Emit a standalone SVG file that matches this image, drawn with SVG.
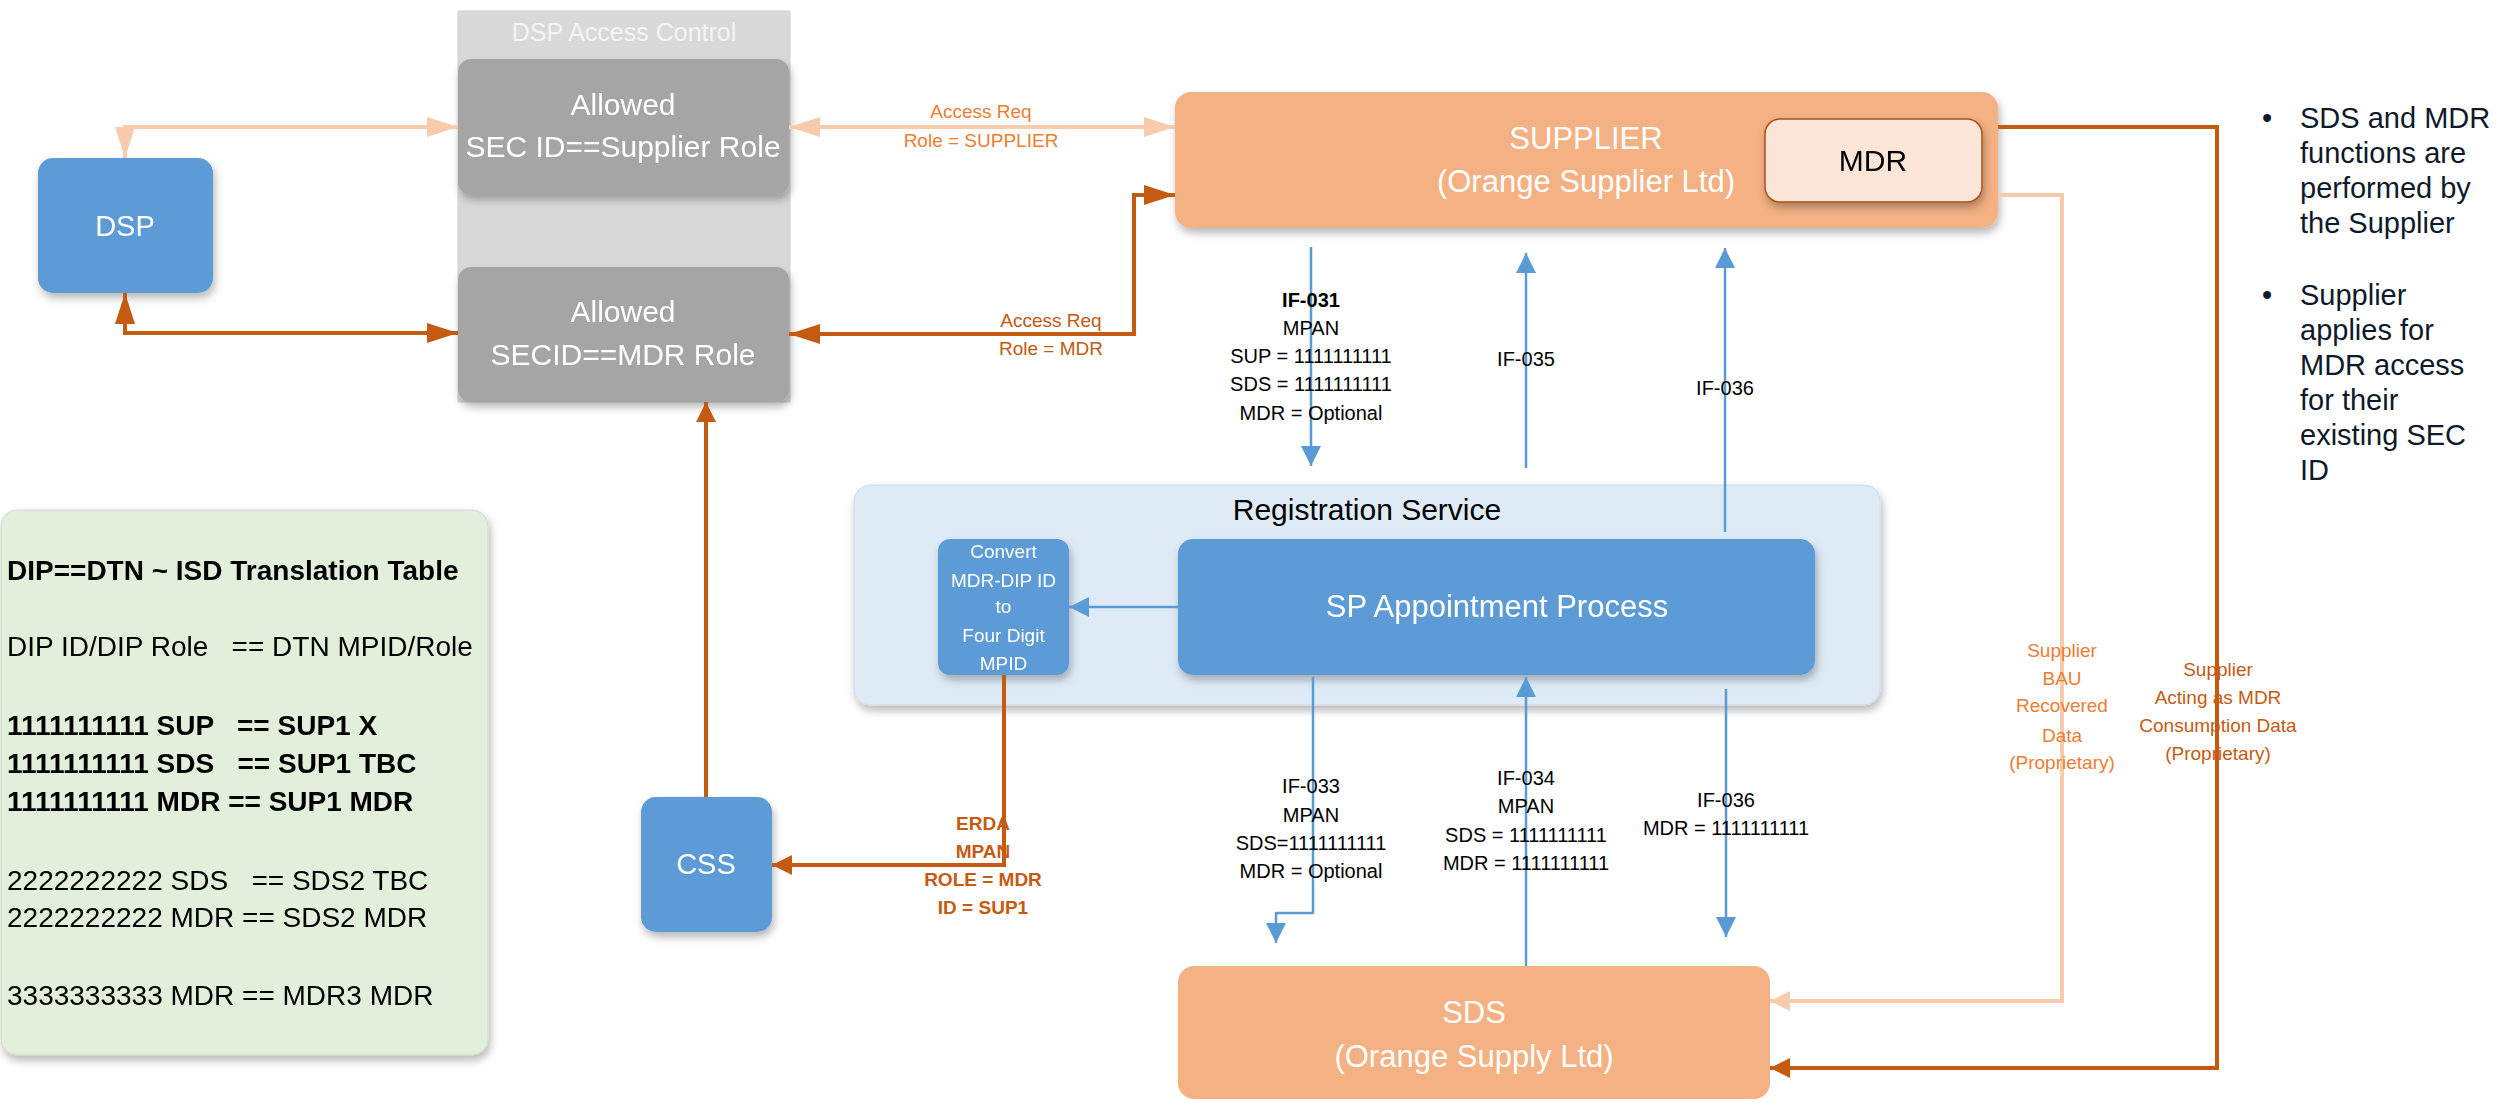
<svg xmlns="http://www.w3.org/2000/svg" width="2496" height="1103" viewBox="0 0 2496 1103">
<style>
text{font-family:"Liberation Sans",Arial,sans-serif}
.w{fill:#ffffff}
.c{text-anchor:middle}
.lbl{font-size:20px;fill:#000;text-anchor:middle}
.olbl{font-size:19px;fill:#ed7d31;text-anchor:middle}
.dlbl{font-size:19px;fill:#c55a11;text-anchor:middle}
.tbl{font-size:28px;fill:#000;white-space:pre}
.bul{font-size:29px;fill:#0e1a2b}
.blue{fill:#5b9bd5}
.gray{fill:#a5a5a5}
.peach{fill:#f4b183}
.lt{fill:none;stroke:#f8cbad;stroke-width:4}
.dk{fill:none;stroke:#c55a11;stroke-width:4}
.bl{fill:none;stroke:#5b9bd5;stroke-width:2.5}
</style>
<defs>
<filter id="sh" x="-10%" y="-10%" width="130%" height="140%">
<feDropShadow dx="2" dy="5" stdDeviation="4" flood-color="#000" flood-opacity="0.28"/>
</filter>
<marker id="ltL" markerUnits="userSpaceOnUse" markerWidth="31" markerHeight="20" refX="31" refY="10" orient="auto-start-reverse"><path d="M0,0 L31,10 L0,20 z" fill="#f8cbad"/></marker>
<marker id="dkL" markerUnits="userSpaceOnUse" markerWidth="31" markerHeight="20" refX="31" refY="10" orient="auto-start-reverse"><path d="M0,0 L31,10 L0,20 z" fill="#c55a11"/></marker>
<marker id="ltS" markerUnits="userSpaceOnUse" markerWidth="20" markerHeight="20" refX="20" refY="10" orient="auto-start-reverse"><path d="M0,0 L20,10 L0,20 z" fill="#f8cbad"/></marker>
<marker id="dkS" markerUnits="userSpaceOnUse" markerWidth="20" markerHeight="20" refX="20" refY="10" orient="auto-start-reverse"><path d="M0,0 L20,10 L0,20 z" fill="#c55a11"/></marker>
<marker id="blS" markerUnits="userSpaceOnUse" markerWidth="20" markerHeight="20" refX="20" refY="10" orient="auto-start-reverse"><path d="M0,0 L20,10 L0,20 z" fill="#5b9bd5"/></marker>
</defs>
<rect width="2496" height="1103" fill="#ffffff"/>

<g id="dsp-access-control">
<rect x="458" y="11" width="332" height="391" fill="#d9d9d9" stroke="#cfcfcf" stroke-width="1"/>
<text x="624" y="41" class="c" font-size="25" fill="#f4f4f4">DSP Access Control</text>
</g>
<g id="allowed-supplier" filter="url(#sh)">
<rect x="458" y="59" width="331" height="136" rx="13" class="gray"/>
<text x="623" y="115" class="c w" font-size="30">Allowed</text>
<text x="623" y="157" class="c w" font-size="30">SEC ID==Supplier Role</text>
</g>
<g id="allowed-mdr" filter="url(#sh)">
<rect x="458" y="267" width="331" height="135" rx="13" class="gray"/>
<text x="623" y="322" class="c w" font-size="30">Allowed</text>
<text x="623" y="365" class="c w" font-size="30">SECID==MDR Role</text>
</g>
<g id="dsp" filter="url(#sh)">
<rect x="38" y="158" width="175" height="135" rx="15" class="blue"/>
<text x="125" y="236" class="c w" font-size="29">DSP</text>
</g>
<g id="css" filter="url(#sh)">
<rect x="641" y="797" width="131" height="135" rx="15" class="blue"/>
<text x="706" y="874" class="c w" font-size="29">CSS</text>
</g>
<g id="translation-table" filter="url(#sh)">
<rect x="1" y="510" width="487" height="545" rx="16" fill="#e2efda" stroke="#d0d8cc" stroke-width="1"/>
<text x="7" y="580" class="tbl" font-weight="bold">DIP==DTN ~ ISD Translation Table</text>
<text x="7" y="656" class="tbl">DIP ID/DIP Role   == DTN MPID/Role</text>
<text x="7" y="735" class="tbl" font-weight="bold">1111111111 SUP   == SUP1 X</text>
<text x="7" y="773" class="tbl" font-weight="bold">1111111111 SDS   == SUP1 TBC</text>
<text x="7" y="811" class="tbl" font-weight="bold">1111111111 MDR == SUP1 MDR</text>
<text x="7" y="890" class="tbl">2222222222 SDS   == SDS2 TBC</text>
<text x="7" y="927" class="tbl">2222222222 MDR == SDS2 MDR</text>
<text x="7" y="1005" class="tbl">3333333333 MDR == MDR3 MDR</text>
</g>
<g id="supplier">
<rect x="1175" y="92" width="823" height="136" rx="16" class="peach" filter="url(#sh)"/>
<text x="1586" y="149" class="c w" font-size="31">SUPPLIER</text>
<text x="1586" y="192" class="c w" font-size="31">(Orange Supplier Ltd)</text>
</g>
<g id="mdr" filter="url(#sh)">
<rect x="1765" y="119" width="217" height="83" rx="15" fill="#fbe5d6" stroke="#a9521a" stroke-width="1.5"/>
<text x="1873" y="171" class="c" font-size="30" fill="#000">MDR</text>
</g>
<g id="registration-service">
<rect x="854" y="485" width="1026" height="220" rx="16" fill="#deebf7" stroke="#d2dbe4" stroke-width="1" filter="url(#sh)"/>
<text x="1367" y="520" class="c" font-size="30" fill="#000">Registration Service</text>
</g>
<g id="convert" filter="url(#sh)">
<rect x="938" y="539" width="131" height="136" rx="12" class="blue"/>
<text x="1003.5" y="558" class="c w" font-size="19">Convert</text>
<text x="1003.5" y="587" class="c w" font-size="19">MDR-DIP ID</text>
<text x="1003.5" y="613" class="c w" font-size="19">to</text>
<text x="1003.5" y="642" class="c w" font-size="19">Four Digit</text>
<text x="1003.5" y="670" class="c w" font-size="19">MPID</text>
</g>
<g id="sp-appointment" filter="url(#sh)">
<rect x="1178" y="539" width="637" height="136" rx="15" class="blue"/>
<text x="1497" y="617" class="c w" font-size="31">SP Appointment Process</text>
</g>
<g id="sds">
<rect x="1178" y="966" width="592" height="133" rx="16" class="peach"/>
<text x="1474" y="1023" class="c w" font-size="31">SDS</text>
<text x="1474" y="1067" class="c w" font-size="31">(Orange Supply Ltd)</text>
</g>

<g id="connectors">
<path class="lt" d="M125,158 L125,127 L458,127" marker-start="url(#ltL)" marker-end="url(#ltL)"/>
<path class="dk" d="M125,293 L125,333 L458,333" marker-start="url(#dkL)" marker-end="url(#dkL)"/>
<path class="lt" d="M789,127 L1175,127" marker-start="url(#ltL)" marker-end="url(#ltL)"/>
<path class="dk" d="M789,334 L1134,334 L1134,195 L1175,195" marker-start="url(#dkL)" marker-end="url(#dkL)"/>
<path class="dk" stroke-width="3" d="M706,797 L706,402" marker-end="url(#dkS)"/>
<path class="dk" stroke-width="2.5" d="M1004,675 L1004,865 L772,865" marker-end="url(#dkS)"/>
<path class="bl" stroke-width="4" d="M1178,607 L1069,607" marker-end="url(#blS)"/>
<path class="bl" d="M1311,247 L1311,466" marker-end="url(#blS)"/>
<path class="bl" d="M1526,468 L1526,253" marker-end="url(#blS)"/>
<path class="bl" d="M1725,532 L1725,248" marker-end="url(#blS)"/>
<path class="bl" d="M1313,677 L1313,913 L1276,913 L1276,943" marker-end="url(#blS)"/>
<path class="bl" d="M1526,966 L1526,677" marker-end="url(#blS)"/>
<path class="bl" d="M1726,689 L1726,937" marker-end="url(#blS)"/>
<path class="lt" stroke-width="3.5" d="M1998,195 L2062,195 L2062,1001 L1770,1001" marker-end="url(#ltS)"/>
<path class="dk" stroke-width="3.5" d="M1998,127 L2217,127 L2217,1068 L1770,1068" marker-end="url(#dkS)"/>
</g>

<g id="labels">
<text x="981" y="118" class="olbl">Access Req</text>
<text x="981" y="147" class="olbl">Role = SUPPLIER</text>
<text x="1051" y="327" class="dlbl">Access Req</text>
<text x="1051" y="355" class="dlbl">Role = MDR</text>
<text x="1311" y="307" class="lbl" font-weight="bold">IF-031</text>
<text x="1311" y="335" class="lbl">MPAN</text>
<text x="1311" y="363" class="lbl">SUP = 1111111111</text>
<text x="1311" y="391" class="lbl">SDS = 1111111111</text>
<text x="1311" y="420" class="lbl">MDR = Optional</text>
<text x="1526" y="366" class="lbl">IF-035</text>
<text x="1725" y="395" class="lbl">IF-036</text>
<text x="983" y="830" class="dlbl" font-weight="bold">ERDA</text>
<text x="983" y="858" class="dlbl" font-weight="bold">MPAN</text>
<text x="983" y="886" class="dlbl" font-weight="bold">ROLE = MDR</text>
<text x="983" y="914" class="dlbl" font-weight="bold">ID = SUP1</text>
<text x="1311" y="793" class="lbl">IF-033</text>
<text x="1311" y="822" class="lbl">MPAN</text>
<text x="1311" y="850" class="lbl">SDS=1111111111</text>
<text x="1311" y="878" class="lbl">MDR = Optional</text>
<text x="1526" y="785" class="lbl">IF-034</text>
<text x="1526" y="813" class="lbl">MPAN</text>
<text x="1526" y="842" class="lbl">SDS = 1111111111</text>
<text x="1526" y="870" class="lbl">MDR = 1111111111</text>
<text x="1726" y="807" class="lbl">IF-036</text>
<text x="1726" y="835" class="lbl">MDR = 1111111111</text>
<text x="2062" y="657" class="olbl" font-size="21">Supplier</text>
<text x="2062" y="685" class="olbl" font-size="21">BAU</text>
<text x="2062" y="712" class="olbl" font-size="21">Recovered</text>
<text x="2062" y="742" class="olbl" font-size="21">Data</text>
<text x="2062" y="769" class="olbl" font-size="21">(Proprietary)</text>
<text x="2218" y="676" class="dlbl" font-size="21">Supplier</text>
<text x="2218" y="704" class="dlbl" font-size="21">Acting as MDR</text>
<text x="2218" y="732" class="dlbl" font-size="21">Consumption Data</text>
<text x="2218" y="760" class="dlbl" font-size="21">(Proprietary)</text>
</g>

<g id="notes">
<text x="2262" y="128" class="bul">•</text>
<text x="2300" y="128" class="bul">SDS and MDR</text>
<text x="2300" y="163" class="bul">functions are</text>
<text x="2300" y="198" class="bul">performed by</text>
<text x="2300" y="233" class="bul">the Supplier</text>
<text x="2262" y="305" class="bul">•</text>
<text x="2300" y="305" class="bul">Supplier</text>
<text x="2300" y="340" class="bul">applies for</text>
<text x="2300" y="375" class="bul">MDR access</text>
<text x="2300" y="410" class="bul">for their</text>
<text x="2300" y="445" class="bul">existing SEC</text>
<text x="2300" y="480" class="bul">ID</text>
</g>
</svg>
